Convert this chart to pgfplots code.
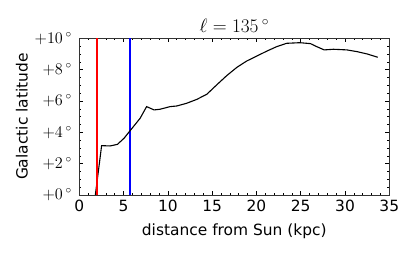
\documentclass[border=0pt]{standalone}
\usepackage{graphicx}
\usepackage{pgfplots}
\pgfplotsset{compat=1.18}
\usepackage{fontspec}
\setmainfont{DejaVu Sans}
\newcommand{\yl}[1]{\scalebox{1.13}{$+#1\,^\circ$}}
\begin{document}
\begin{tikzpicture}
\begin{axis}[
  at={(0,0)}, anchor=south west,
  scale only axis, width=310bp, height=156.7bp,
  xmin=0, xmax=35, ymin=0, ymax=10,
  xtick={0,5,...,35}, xticklabels={0,5,10,15,20,25,30,35},
  ytick={0,2,...,10}, yticklabels={\yl{0},\yl{2},\yl{4},\yl{6},\yl{8},\yl{10}},
  minor x tick num=4, minor y tick num=3,
  tick align=inside, tick pos=both,
  major tick length=4bp, minor tick length=2bp,
  every tick/.style={black, line width=0.6pt},
  axis line style={line width=1pt, black!80},
  xticklabel style={font=\fontsize{15.5}{18}\selectfont, yshift=-2bp},
  yticklabel style={font=\fontsize{14.4}{17}\selectfont, xshift=-4bp},
  label style={font=\fontsize{15.5}{18}\selectfont},
  xlabel style={yshift=-5bp},
  ylabel style={yshift=0bp},
  xlabel={distance from Sun (kpc)},
  ylabel={Galactic latitude},
  title={\scalebox{1.12}{$\ell=135\,^\circ$}},
  title style={font=\fontsize{17.28}{20}\selectfont, yshift=-4bp},
  clip=true,
]
\addplot[blue, line width=1.2bp] coordinates {(5.73,0) (5.73,10)};
\addplot[black, line width=1.1bp] coordinates {
(1.7,-0.5) (2.52,3.15) (3.47,3.13) (4.3,3.23) (5.05,3.62) (5.73,4.1) (6.86,4.89) (7.6,5.64)
(8.44,5.43) (9.1,5.47) (10.25,5.64) (11.0,5.68) (12.1,5.85) (13.26,6.1) (14.4,6.43)
(15.5,7.02) (16.65,7.62) (17.8,8.15) (18.9,8.55) (20.05,8.87) (21.2,9.19) (22.3,9.47)
(23.4,9.68) (24.9,9.72) (26.1,9.66) (26.8,9.47) (27.65,9.26) (28.7,9.3) (30.2,9.26)
(31.35,9.15) (32.5,9.0) (33.7,8.79)
};
\addplot[draw=red, line width=2bp] coordinates {(2.0,0) (2.0,10)};
\end{axis}
\pgfresetboundingbox
\useasboundingbox (-79.3bp,-59bp) rectangle (335.7bp,195bp);
\end{tikzpicture}
\end{document}
